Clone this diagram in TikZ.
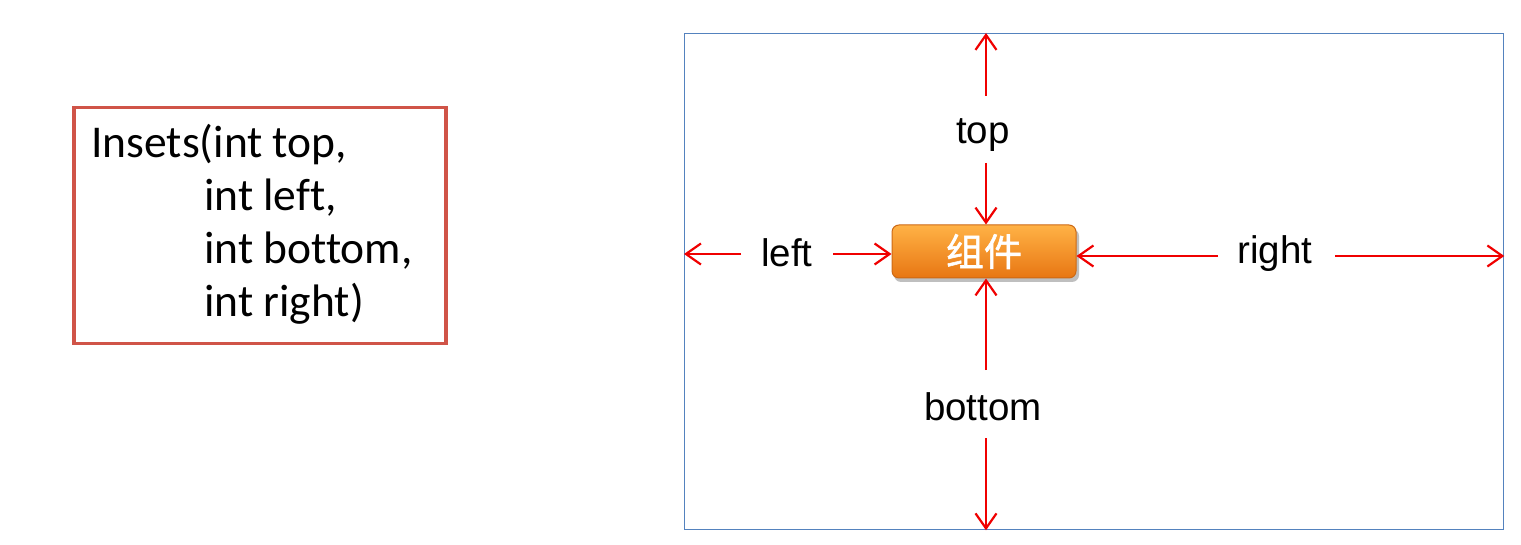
\documentclass[tikz,border=0pt]{standalone}
\usepackage{fontspec}
\setmainfont{Liberation Sans}
\newfontfamily\calfont[Ligatures=CommonOff]{Carlito}
\newfontfamily\cjkfont[FakeBold=1.5]{Noto Sans CJK SC}
\usetikzlibrary{arrows.meta,shadows}
\definecolor{boxred}{RGB}{208,84,72}
\definecolor{frameblue}{RGB}{84,130,190}
\definecolor{arrred}{RGB}{240,0,0}
\definecolor{orangetop}{RGB}{255,178,70}
\definecolor{orangebot}{RGB}{232,118,18}
\definecolor{orangeedge}{RGB}{205,105,20}
\begin{document}
\begin{tikzpicture}[x=1pt,y=-1pt,
  codeline/.style={anchor=base west,inner sep=0pt,font=\calfont\fontsize{45.5}{52}\selectfont},
  lbl/.style={anchor=base,inner sep=0pt,font=\fontsize{38.5}{46}\selectfont},
  arr/.style={draw=arrred,line width=2.2pt,-{Straight Barb[length=15pt,width=21pt,line width=2.2pt]}}]
\useasboundingbox (0,0) rectangle (1521,545);
\fill[white] (0,0) rectangle (1521,545);
% left box
\node[draw=boxred,line width=3.5pt,minimum width=372pt,minimum height=236pt,anchor=north west,inner sep=0pt] (params) at (72,106) {};
\node[codeline] (l1) at (91,158) {Insets(int top,};
\node[codeline] (l2) at (204,211) {int left,};
\node[codeline] (l3) at (204,264) {int bottom,};
\node[codeline] (l4) at (204,317) {int right)};
% frame
\node[draw=frameblue,line width=1.3pt,minimum width=819pt,minimum height=496pt,anchor=north west,inner sep=0pt] (frame) at (684,33) {};
% component button
\fill[black!25,rounded corners=7pt] (894,229) rectangle (1079,282);
\node[rounded corners=7pt,draw=orangeedge,line width=1pt,top color=orangetop,bottom color=orangebot,minimum width=184pt,minimum height=53pt,inner sep=0pt,text=white,font=\cjkfont\fontsize{38}{44}\selectfont] (comp) at (984,251.5) {组件};
% labels
\node[lbl] (top) at (983,144) {top};
\node[lbl] (bottom) at (983,420) {bottom};
\node[lbl] (left) at (787,267) {left};
\node[lbl] (right) at (1275,264) {right};
% arrow coordinates
\coordinate (ta) at (986,96);
\coordinate (tb) at (986,163);
\coordinate (ba) at (986,370);
\coordinate (bb) at (986,438);
\coordinate (la) at (741,254);
\coordinate (lb) at (833,254);
\coordinate (ra) at (1218,256);
\coordinate (rb) at (1335,256);
% arrows
\draw[arr] (ta) -- (ta |- frame.north);
\draw[arr] (tb) -- (tb |- comp.north);
\draw[arr] (ba) -- (ba |- comp.south);
\draw[arr] (bb) -- (bb |- frame.south);
\draw[arr] (la) -- (la -| frame.west);
\draw[arr] (lb) -- (lb -| comp.west);
\draw[arr] (ra) -- (ra -| comp.east);
\draw[arr] (rb) -- (rb -| frame.east);
\end{tikzpicture}
\end{document}
